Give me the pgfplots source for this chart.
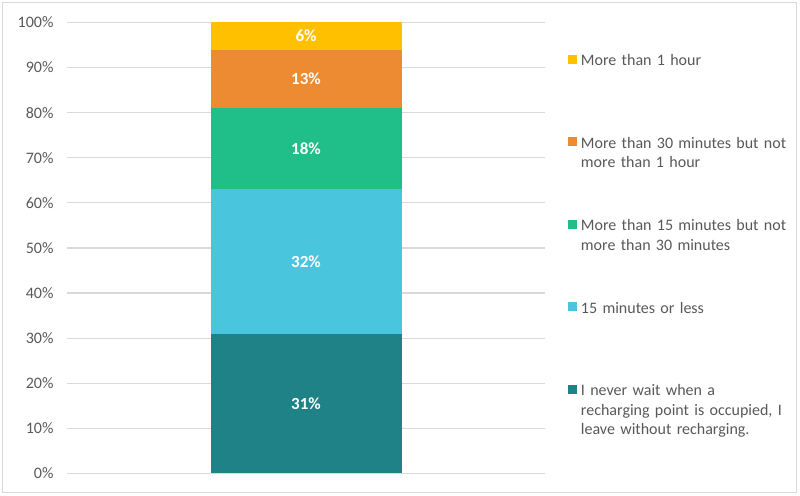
\documentclass[border=0pt]{standalone}
\usepackage{pgfplots}
\pgfplotsset{compat=1.18}
\usepackage{fontspec}
\setmainfont{Carlito}
\definecolor{cTeal}{RGB}{30,130,135}
\definecolor{cSky}{RGB}{74,197,222}
\definecolor{cGreen}{RGB}{32,190,137}
\definecolor{cOrange}{RGB}{237,139,50}
\definecolor{cYellow}{RGB}{255,192,0}
\definecolor{cGrid}{RGB}{217,217,217}
\definecolor{cText}{RGB}{89,89,89}
\pgfplotsset{sqlegend/.style={legend image code/.code={\fill[##1] (0bp,2bp) rectangle (9bp,11bp);}}}
\begin{document}
\begin{tikzpicture}[x=1bp,y=1bp]
\useasboundingbox (0,0) rectangle (800,496);
\fill[white] (0,0) rectangle (800,496);
\draw[cGrid, line width=1bp] (2.5,3.5) rectangle (796.5,493.5);
\begin{axis}[
  at={(67bp,22.5bp)}, anchor=south west,
  scale only axis, width=478bp, height=451bp,
  ybar stacked, bar width=191bp,
  xmin=-1, xmax=1, ymin=0, ymax=100,
  xtick=\empty, ytick={0,10,...,100},
  yticklabel={\pgfmathprintnumber[assume math mode=true]{\tick}\%},
  ymajorgrids, grid style={cGrid, line width=1.2bp},
  axis line style={draw=none}, major tick length=0pt,
  tick label style={font=\fontsize{16bp}{19bp}\selectfont, text=cText},
  yticklabel style={xshift=-10bp},
  reverse legend,
  legend style={at={(1.048,0.931)}, anchor=north west, draw=none, fill=none,
    inner sep=0pt, outer sep=0pt, row sep=0pt, column sep=4bp,
    font=\fontsize{16bp}{19.5bp}\selectfont, text=cText,
    nodes={text width=215bp, align=left, inner sep=0pt, text height=12bp, text depth=70.5bp, anchor=base west}},
]
\addplot[fill=cTeal, draw=none, sqlegend] coordinates {(0,31)};
\addplot[fill=cSky, draw=none, sqlegend] coordinates {(0,32)};
\addplot[fill=cGreen, draw=none, sqlegend] coordinates {(0,18)};
\addplot[fill=cOrange, draw=none, sqlegend] coordinates {(0,13)};
\addplot[fill=cYellow, draw=none, sqlegend] coordinates {(0,6)};
\legend{{I never wait when a\\recharging point is occupied, I\\leave without recharging.},
  {15 minutes or less},
  {More than 15 minutes but not\\more than 30 minutes},
  {More than 30 minutes but not\\more than 1 hour},
  {More than 1 hour}}
\end{axis}
\begin{axis}[
  at={(67bp,22.5bp)}, anchor=south west,
  scale only axis, width=478bp, height=451bp,
  xmin=-1, xmax=1, ymin=0, ymax=100, hide axis,
]
\addplot[draw=none, nodes near coords, point meta=explicit symbolic,
  every node near coord/.style={font=\fontsize{17bp}{19bp}\selectfont\bfseries, text=white, anchor=center}]
  coordinates {(0,15.5)[31\%] (0,47)[32\%] (0,72)[18\%] (0,87.5)[13\%] (0,97)[6\%]};
\end{axis}
\end{tikzpicture}
\end{document}
